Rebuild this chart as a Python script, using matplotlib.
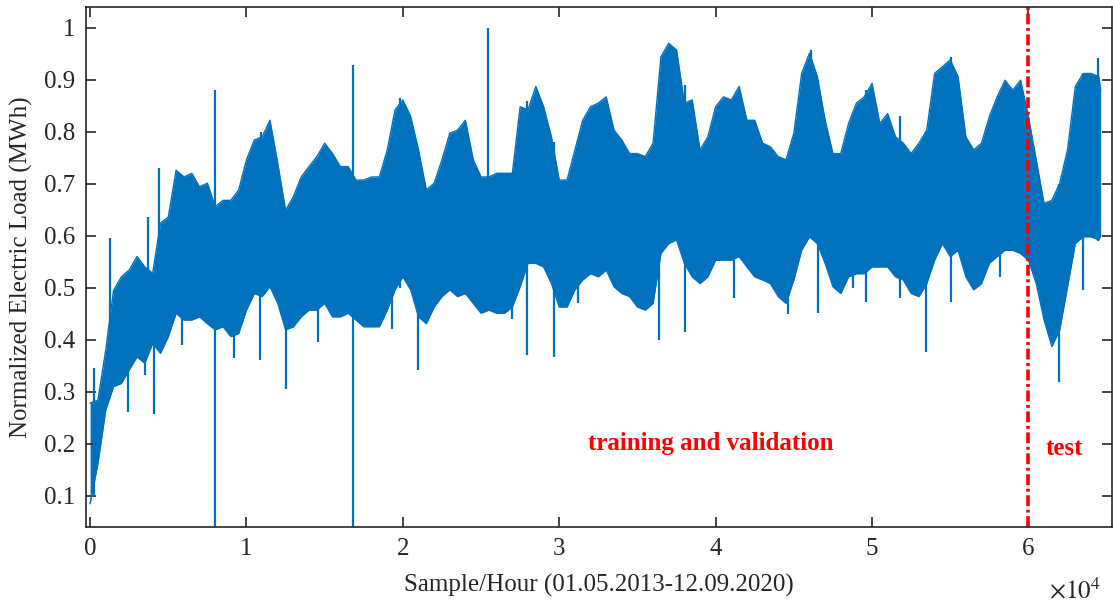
import numpy as np
import matplotlib
matplotlib.use("Agg")
import matplotlib.pyplot as plt

# envelope of the hourly load, read every 500 samples
hours = list(range(0, 64501, 500)) + [64620]
upper = [0.278, 0.284, 0.380, 0.495, 0.521, 0.534, 0.560, 0.540, 0.528, 0.624,
         0.636, 0.726, 0.713, 0.720, 0.694, 0.701, 0.656, 0.668, 0.668, 0.688,
         0.746, 0.784, 0.790, 0.822, 0.739, 0.649, 0.675, 0.713, 0.733, 0.752,
         0.778, 0.758, 0.733, 0.733, 0.707, 0.707, 0.713, 0.713, 0.765, 0.842,
         0.861, 0.829, 0.765, 0.688, 0.701, 0.746, 0.797, 0.803, 0.822, 0.746,
         0.713, 0.713, 0.720, 0.720, 0.720, 0.848, 0.842, 0.887, 0.848, 0.790,
         0.707, 0.707, 0.765, 0.822, 0.848, 0.855, 0.867, 0.803, 0.784, 0.758,
         0.758, 0.752, 0.778, 0.944, 0.970, 0.957, 0.855, 0.861, 0.765, 0.790,
         0.848, 0.867, 0.861, 0.887, 0.822, 0.822, 0.778, 0.771, 0.752, 0.746,
         0.797, 0.912, 0.951, 0.906, 0.822, 0.758, 0.758, 0.816, 0.855, 0.867,
         0.893, 0.816, 0.835, 0.790, 0.778, 0.758, 0.778, 0.803, 0.912, 0.925,
         0.938, 0.906, 0.790, 0.765, 0.778, 0.829, 0.867, 0.899, 0.880, 0.899,
         0.829, 0.746, 0.662, 0.668, 0.701, 0.765, 0.887, 0.912, 0.912, 0.906,
         0.880]
lower = [0.085, 0.162, 0.265, 0.310, 0.316, 0.342, 0.367, 0.355, 0.393, 0.374,
         0.406, 0.451, 0.438, 0.438, 0.444, 0.431, 0.419, 0.425, 0.406, 0.412,
         0.457, 0.489, 0.483, 0.502, 0.470, 0.419, 0.425, 0.444, 0.457, 0.457,
         0.470, 0.444, 0.444, 0.451, 0.438, 0.425, 0.425, 0.425, 0.457, 0.496,
         0.521, 0.496, 0.444, 0.431, 0.463, 0.483, 0.496, 0.483, 0.489, 0.470,
         0.451, 0.457, 0.451, 0.451, 0.463, 0.502, 0.547, 0.547, 0.540, 0.508,
         0.463, 0.463, 0.496, 0.515, 0.527, 0.521, 0.534, 0.502, 0.489, 0.483,
         0.463, 0.457, 0.470, 0.566, 0.585, 0.592, 0.547, 0.521, 0.508, 0.521,
         0.553, 0.553, 0.553, 0.560, 0.540, 0.521, 0.515, 0.508, 0.483, 0.470,
         0.515, 0.572, 0.598, 0.585, 0.547, 0.502, 0.489, 0.521, 0.527, 0.527,
         0.540, 0.540, 0.540, 0.521, 0.515, 0.489, 0.483, 0.508, 0.553, 0.585,
         0.560, 0.572, 0.521, 0.496, 0.508, 0.547, 0.560, 0.572, 0.572, 0.566,
         0.553, 0.508, 0.438, 0.387, 0.419, 0.502, 0.585, 0.598, 0.598, 0.592,
         0.600]

# single hours sticking out of the envelope
spike_h = [250, 1300, 2400, 3500, 3700, 4100, 4400, 5900, 8000, 9200, 10850,
           10900, 12500, 14600, 16800, 19300, 19800, 20950, 25450, 27000, 27950,
           29650, 31200, 36380, 38020, 41200, 44650, 46100, 46570, 48800, 49620,
           51800, 53420, 55020, 58200, 61950, 63500, 64420]
spike_lo = [0.10, 0.30, 0.262, 0.332, 0.42, 0.258, 0.42, 0.39, 0.04, 0.364, 0.361,
            0.50, 0.306, 0.396, 0.04, 0.42, 0.50, 0.342, 0.46, 0.44, 0.370,
            0.367, 0.47, 0.399, 0.415, 0.48, 0.45, 0.60, 0.451, 0.50, 0.473,
            0.48, 0.377, 0.473, 0.52, 0.319, 0.495, 0.59]
spike_hi = [0.345, 0.595, 0.50, 0.50, 0.636, 0.50, 0.73, 0.70, 0.88, 0.64, 0.78,
            0.80, 0.62, 0.74, 0.928, 0.72, 0.865, 0.72, 1.00, 0.72, 0.86,
            0.78, 0.74, 0.76, 0.89, 0.86, 0.75, 0.957, 0.90, 0.83, 0.88,
            0.83, 0.80, 0.944, 0.87, 0.70, 0.91, 0.941]

split_h = 60000
x_ticks = [0, 1, 2, 3, 4, 5, 6]
y_ticks = [0.1, 0.2, 0.3, 0.4, 0.5, 0.6, 0.7, 0.8, 0.9, 1.0]
y_tick_labels = ["0.1", "0.2", "0.3", "0.4", "0.5", "0.6", "0.7", "0.8", "0.9", "1"]

plt.rcParams["font.family"] = ["Liberation Serif", "DejaVu Serif"]
plt.rcParams["mathtext.fontset"] = "stix"

blue = "#0072BD"
dark = "#262626"

fig = plt.figure(figsize=(11.13, 6.04), dpi=100)
ax = fig.add_axes([0.0773, 0.1275, 0.9216, 0.8611])

ax.fill_between(hours, lower, upper, color=blue, linewidth=0)
ax.plot(hours, upper, color=blue, linewidth=1.0)
ax.plot(hours, lower, color=blue, linewidth=1.0)
ax.vlines(spike_h, spike_lo, spike_hi, color=blue, linewidth=1.6)

ax.axvline(split_h, color="red", linestyle=(0, (3, 1, 0.8, 1)), linewidth=2.6)

ax.text(39700, 0.201, "training and validation", color="red", fontsize=18,
        fontweight="bold", ha="center", va="center")
ax.text(62300, 0.191, "test", color="red", fontsize=18,
        fontweight="bold", ha="center", va="center")

ax.set_xlim(-260, 65330)
ax.set_ylim(0.04, 1.04)
ax.set_xticks([t * 1e4 for t in x_ticks])
ax.set_xticklabels([str(t) for t in x_ticks])
ax.set_yticks(y_ticks)
ax.set_yticklabels(y_tick_labels)

ax.tick_params(direction="in", length=7, width=1.2, color=dark, labelcolor=dark,
               labelsize=18, top=True, right=True, pad=8)
for s in ax.spines.values():
    s.set_color(dark)
    s.set_linewidth(1.2)

ax.set_xlabel("Sample/Hour (01.05.2013-12.09.2020)", fontsize=18, color=dark, labelpad=10)
ax.set_ylabel("Normalized Electric Load (MWh)", fontsize=18, color=dark, labelpad=8)

fig.text(0.966, 0.023, r"$\times10^4$", fontsize=18, color=dark, ha="center", va="center")

fig.savefig("out.png", dpi=100)
